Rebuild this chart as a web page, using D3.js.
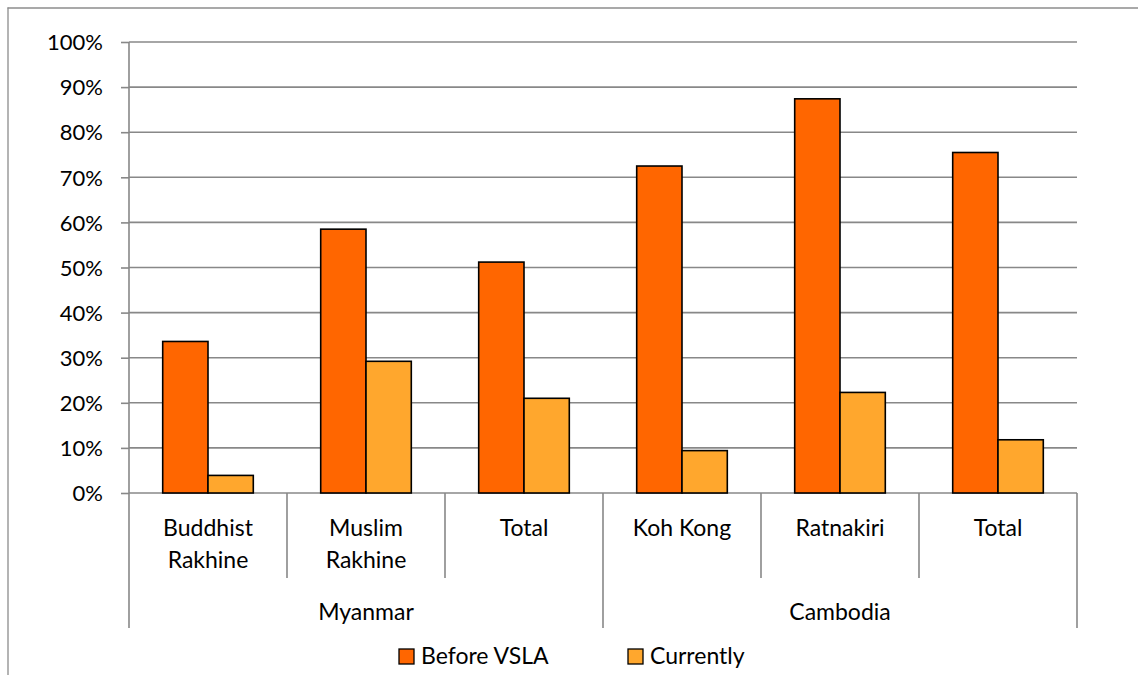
<!DOCTYPE html>
<html>
<head>
<meta charset="utf-8">
<script src="https://cdn.jsdelivr.net/npm/d3@7"></script>
<style>
  html, body { margin: 0; padding: 0; background: #fff; }
  svg text { font-family: Lato, "Open Sans", sans-serif; fill: #000; }
</style>
</head>
<body>
<svg id="chart" width="1138" height="675"></svg>
<script>
// ---- data ----
const categories = [["Buddhist", "Rakhine"], ["Muslim", "Rakhine"], ["Total"], ["Koh Kong"], ["Ratnakiri"], ["Total"]];
const groups = [{ name: "Myanmar", start: 0, end: 3 }, { name: "Cambodia", start: 3, end: 6 }];
const seriesNames = ["Before VSLA", "Currently"];
const beforeVSLA = [0.336, 0.585, 0.512, 0.725, 0.874, 0.755];
const currently = [0.039, 0.292, 0.210, 0.094, 0.223, 0.118];
const yTicks = [0, 0.1, 0.2, 0.3, 0.4, 0.5, 0.6, 0.7, 0.8, 0.9, 1.0];
const colors = ["#FF6600", "#FFA72D"];

(function () {
const svg = d3.select("#chart");
const plotL = 129, plotR = 1077, plotT = 42, plotB = 493;
const gridColor = "#888888";
const fontSize = 23;
const tickFontSize = 22;

// outer chart border (top + left visible)
svg.append("line").attr("x1", 7.5).attr("x2", 1138).attr("y1", 8).attr("y2", 8)
  .attr("stroke", "#8c8c8c").attr("stroke-width", 1.3);
svg.append("line").attr("x1", 8).attr("x2", 8).attr("y1", 7.5).attr("y2", 675)
  .attr("stroke", "#8c8c8c").attr("stroke-width", 1.3);

const y = d3.scaleLinear().domain([0, 1]).range([plotB, plotT]);
const idx = d3.range(categories.length);
const x = d3.scaleBand().domain(idx).range([plotL, plotR]).paddingInner(0.4266).paddingOuter(0.2133);
const xs = d3.scaleBand().domain([0, 1]).range([0, x.bandwidth()]);

// gridlines
svg.append("g").selectAll("line").data(yTicks).join("line")
  .attr("x1", plotL).attr("x2", plotR)
  .attr("y1", d => y(d)).attr("y2", d => y(d))
  .attr("stroke", gridColor).attr("stroke-width", 1.6);

// y axis
const yAxis = d3.axisLeft(y).tickValues(yTicks).tickFormat(d3.format(".0%")).tickSize(8).tickPadding(18);
const gy = svg.append("g").attr("transform", `translate(${plotL},0)`).call(yAxis);
gy.select(".domain").remove();
gy.selectAll(".tick line").attr("stroke", gridColor).attr("stroke-width", 1.6);
gy.selectAll(".tick text").style("font-size", tickFontSize + "px").style("font-family", "Lato, 'Open Sans', sans-serif").attr("dy", "0.35em");

// vertical axis line (extends through the category area)
svg.append("line").attr("x1", plotL).attr("x2", plotL).attr("y1", plotT).attr("y2", 628)
  .attr("stroke", gridColor).attr("stroke-width", 1.6);

// bars
const data = idx.map(i => [beforeVSLA[i], currently[i]]);
const gBars = svg.append("g");
gBars.selectAll("g").data(data).join("g")
  .attr("transform", (d, i) => `translate(${x(i)},0)`)
  .selectAll("rect").data(d => d.map((v, s) => ({ v, s }))).join("rect")
  .attr("x", d => xs(d.s)).attr("width", xs.bandwidth())
  .attr("y", d => y(d.v)).attr("height", d => y(0) - y(d.v))
  .attr("fill", d => colors[d.s]).attr("stroke", "#000").attr("stroke-width", 1.6);

// category dividers
const step = x.step();
const bounds = d3.range(categories.length + 1).map(i => plotL + i * step);
const groupBounds = new Set(groups.flatMap(g => [g.start, g.end]));
svg.append("g").selectAll("line").data(bounds.map((b, i) => ({ b, i })).filter(d => d.i > 0)).join("line")
  .attr("x1", d => d.b).attr("x2", d => d.b)
  .attr("y1", plotB).attr("y2", d => groupBounds.has(d.i) ? 628 : 578)
  .attr("stroke", gridColor).attr("stroke-width", 1.6);

// category labels
const gLab = svg.append("g");
categories.forEach((lines, i) => {
  const t = gLab.append("text").attr("text-anchor", "middle").style("font-size", fontSize + "px");
  lines.forEach((ln, k) => {
    t.append("tspan").attr("x", x(i) + x.bandwidth() / 2).attr("y", 536 + k * 32).text(ln);
  });
});

// group labels
svg.append("g").selectAll("text").data(groups).join("text")
  .attr("x", d => (bounds[d.start] + bounds[d.end]) / 2).attr("y", 620)
  .attr("text-anchor", "middle").style("font-size", fontSize + "px")
  .text(d => d.name);

// legend
const legendX = [399, 628];
const lg = svg.append("g");
seriesNames.forEach((name, s) => {
  lg.append("rect").attr("x", legendX[s]).attr("y", 649).attr("width", 15).attr("height", 15)
    .attr("fill", colors[s]).attr("stroke", "#000").attr("stroke-width", 1.3);
  lg.append("text").attr("x", legendX[s] + 22).attr("y", 664).style("font-size", fontSize + "px").text(name);
});
})();
</script>
</body>
</html>
